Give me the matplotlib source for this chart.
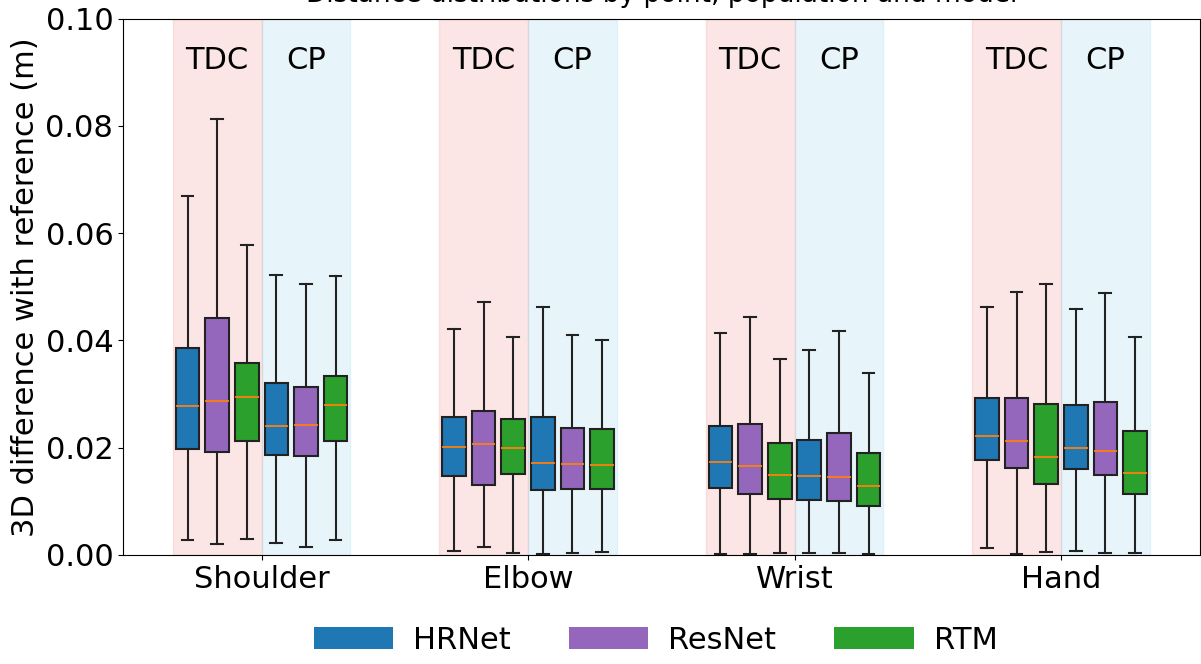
import numpy as np
import matplotlib
matplotlib.use("Agg")
from matplotlib import pyplot as plt
from matplotlib.patches import Patch

joints = ["Shoulder", "Elbow", "Wrist", "Hand"]
populations = ["TDC", "CP"]
models = ["HRNet", "ResNet", "RTM"]
cols = ["#1f77b4", "#9467bd", "#2ca02c"]

# order: joint -> population (TDC, CP) -> model (HRNet, ResNet, RTM)
whis_hi = [0.0669, 0.0813, 0.0577, 0.0522, 0.0506, 0.0520,
           0.0421, 0.0471, 0.0407, 0.0463, 0.0410, 0.0401,
           0.0413, 0.0443, 0.0366, 0.0382, 0.0417, 0.0340,
           0.0463, 0.0490, 0.0505, 0.0459, 0.0488, 0.0407]
q3 = [0.0386, 0.0441, 0.0358, 0.0321, 0.0313, 0.0334,
      0.0258, 0.0268, 0.0253, 0.0258, 0.0237, 0.0234,
      0.0240, 0.0244, 0.0208, 0.0214, 0.0228, 0.0191,
      0.0292, 0.0293, 0.0282, 0.0280, 0.0285, 0.0232]
med = [0.0277, 0.0287, 0.0295, 0.0241, 0.0243, 0.0280,
       0.0201, 0.0206, 0.0199, 0.0172, 0.0169, 0.0167,
       0.0173, 0.0165, 0.0149, 0.0148, 0.0146, 0.0128,
       0.0222, 0.0212, 0.0182, 0.0200, 0.0194, 0.0153]
q1 = [0.0198, 0.0192, 0.0212, 0.0187, 0.0185, 0.0212,
      0.0148, 0.0131, 0.0151, 0.0122, 0.0123, 0.0123,
      0.0125, 0.0113, 0.0104, 0.0103, 0.0101, 0.0092,
      0.0177, 0.0163, 0.0133, 0.0161, 0.0149, 0.0114]
whis_lo = [0.0027, 0.0021, 0.0029, 0.0022, 0.0014, 0.0027,
           0.0007, 0.0014, 0.0004, 0.0002, 0.0003, 0.0006,
           0.0002, 0.0001, 0.0004, 0.0004, 0.0004, 0.0001,
           0.0013, 0.0002, 0.0005, 0.0008, 0.0004, 0.0004]

plt.rcParams['font.family'] = ['DejaVu Sans']
fs = 22

fig = plt.figure(figsize=(12.01, 6.64), dpi=100)
ax = fig.add_axes([0.1024, 0.1642, 0.8964, 0.8079])

d = 1 / 9
stats, positions, colors = [], [], []
k = 0
for j, joint in enumerate(joints):
    for p, pop in enumerate(populations):
        for m, model in enumerate(models):
            stats.append(dict(med=med[k], q1=q1[k], q3=q3[k], whislo=whis_lo[k],
                              whishi=whis_hi[k], fliers=[], label=""))
            positions.append(j + (p * 3 + m - 2.5) * d)
            colors.append(cols[m])
            k += 1

for j in range(len(joints)):
    ax.axvspan(j - 3 * d, j, color="#f08080", alpha=0.2, lw=1, zorder=0)
    ax.axvspan(j, j + 3 * d, color="skyblue", alpha=0.2, lw=1, zorder=0)
    ax.text(j - 1.5 * d, 0.0922, "TDC", ha="center", va="center", fontsize=fs)
    ax.text(j + 1.5 * d, 0.0922, "CP", ha="center", va="center", fontsize=fs)

bp = ax.bxp(stats, positions=positions, widths=0.8 * d, patch_artist=True,
            showfliers=False,
            boxprops=dict(edgecolor="#222222", linewidth=1.5),
            whiskerprops=dict(color="#222222", linewidth=1.5),
            capprops=dict(color="#222222", linewidth=1.5),
            medianprops=dict(color="#ff7f0e", linewidth=1.3))
for box, c in zip(bp["boxes"], colors):
    box.set_facecolor(c)

ax.set_xlim(-0.52, 3.52)
ax.set_ylim(0, 0.10)
ax.set_xticks(range(len(joints)))
ax.set_xticklabels(joints, fontsize=fs)
ax.tick_params(axis="y", labelsize=fs)
ax.set_ylabel("3D difference with reference (m)", fontsize=fs)
ax.set_title("Distance distributions by point, population and model", fontsize=19, pad=12)

handles = [Patch(facecolor=c, label=mname) for c, mname in zip(cols, models)]
fig.legend(handles=handles, loc="center", bbox_to_anchor=(0.546, 0.036), ncol=3,
           frameon=False, fontsize=fs, handlelength=2.6, handletextpad=0.65,
           columnspacing=1.9)

plt.savefig("out.png", dpi=100)
